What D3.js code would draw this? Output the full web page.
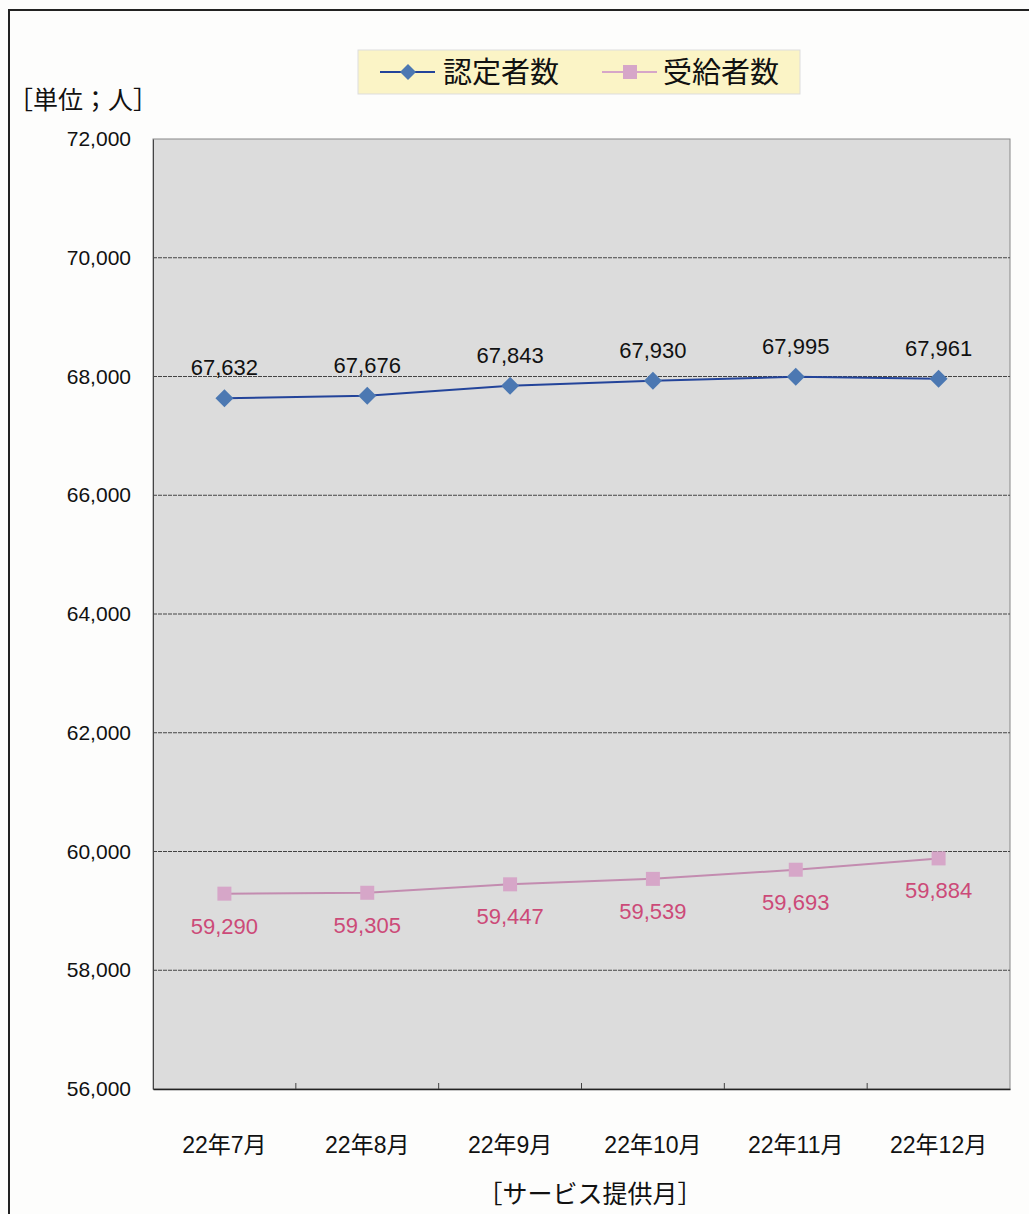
<!DOCTYPE html>
<html>
<head>
<meta charset="utf-8">
<script src="https://cdn.jsdelivr.net/npm/d3@7"></script>
<style>
  body { margin: 0; background: #fdfdfc; overflow: hidden; }
  text { font-family: "Liberation Sans", Arial, "Noto Sans CJK JP", sans-serif; }
</style>
</head>
<body>
<div id="chart"></div>
<script>
const width = 1029;
const height = 1214;

// Data
const months = ['22年7月', '22年8月', '22年9月', '22年10月', '22年11月', '22年12月'];
const certified = [67632, 67676, 67843, 67930, 67995, 67961];   // 認定者数
const recipients = [59290, 59305, 59447, 59539, 59693, 59884];  // 受給者数
const yTicks = [56000, 58000, 60000, 62000, 64000, 66000, 68000, 70000, 72000];

const plot = { left: 153, right: 1010, top: 139, bottom: 1089 };

const svg = d3.select('#chart')
  .append('svg')
  .attr('width', width)
  .attr('height', height)
  .style('display', 'block');

// Outer frame (only left and top edges visible in the scan)
svg.append('path')
  .attr('d', `M9,${height} L9,10 L${width},10`)
  .attr('fill', 'none')
  .attr('stroke', '#222')
  .attr('stroke-width', 2);

const x = d3.scaleBand()
  .domain(months)
  .range([plot.left, plot.right]);

const y = d3.scaleLinear()
  .domain([56000, 72000])
  .range([plot.bottom, plot.top]);

// Plot background
svg.append('rect')
  .attr('x', plot.left)
  .attr('y', plot.top)
  .attr('width', plot.right - plot.left)
  .attr('height', plot.bottom - plot.top)
  .attr('fill', '#dcdcdc')
  .attr('stroke', '#888')
  .attr('stroke-width', 1);

// Gridlines
svg.selectAll('.grid')
  .data(yTicks.slice(1, -1))
  .enter()
  .append('line')
  .attr('class', 'grid')
  .attr('x1', plot.left)
  .attr('x2', plot.right)
  .attr('y1', d => y(d))
  .attr('y2', d => y(d))
  .attr('stroke', '#444')
  .attr('stroke-width', 1)
  .attr('stroke-dasharray', '4,1');

// Y axis
const yAxis = svg.append('g')
  .attr('transform', `translate(${plot.left},0)`)
  .call(d3.axisLeft(y).tickValues(yTicks).tickSize(0).tickPadding(22).tickFormat(d3.format(',')));
yAxis.select('.domain').attr('stroke', '#444');
yAxis.selectAll('text').attr('font-size', 21).attr('fill', '#111');

// X axis
const xAxis = svg.append('g')
  .attr('transform', `translate(0,${plot.bottom})`)
  .call(d3.axisBottom(x).tickSize(0).tickPadding(48));
xAxis.select('.domain').attr('stroke', '#222').attr('stroke-width', 1.5);
xAxis.selectAll('text').attr('font-size', 23).attr('fill', '#111');

// Small inward ticks at category boundaries
svg.selectAll('.xtick')
  .data(months.slice(1))
  .enter()
  .append('line')
  .attr('x1', d => x(d))
  .attr('x2', d => x(d))
  .attr('y1', plot.bottom)
  .attr('y2', plot.bottom - 6)
  .attr('stroke', '#444');

const cx = d => x(d) + x.bandwidth() / 2;

const line = d3.line()
  .x((d, i) => cx(months[i]))
  .y(d => y(d));

// 受給者数 line
svg.append('path')
  .datum(recipients)
  .attr('d', line)
  .attr('fill', 'none')
  .attr('stroke', '#c38cb0')
  .attr('stroke-width', 2);

svg.selectAll('.sq')
  .data(recipients)
  .enter()
  .append('rect')
  .attr('x', (d, i) => cx(months[i]) - 7)
  .attr('y', d => y(d) - 7)
  .attr('width', 14)
  .attr('height', 14)
  .attr('fill', '#d6a6c8');

svg.selectAll('.rlabel')
  .data(recipients)
  .enter()
  .append('text')
  .attr('x', (d, i) => cx(months[i]))
  .attr('y', d => y(d) + 40)
  .attr('text-anchor', 'middle')
  .attr('font-size', 22)
  .attr('fill', '#cc4a78')
  .text(d => d3.format(',')(d));

// 認定者数 line
svg.append('path')
  .datum(certified)
  .attr('d', line)
  .attr('fill', 'none')
  .attr('stroke', '#23449a')
  .attr('stroke-width', 2);

svg.selectAll('.dia')
  .data(certified)
  .enter()
  .append('path')
  .attr('d', 'M0,-9 L9,0 L0,9 L-9,0 Z')
  .attr('transform', (d, i) => `translate(${cx(months[i])},${y(d)})`)
  .attr('fill', '#4c78b2');

svg.selectAll('.clabel')
  .data(certified)
  .enter()
  .append('text')
  .attr('x', (d, i) => cx(months[i]))
  .attr('y', d => y(d) - 23)
  .attr('text-anchor', 'middle')
  .attr('font-size', 22)
  .attr('fill', '#111')
  .text(d => d3.format(',')(d));

// Legend
const legend = svg.append('g');
legend.append('rect')
  .attr('x', 358)
  .attr('y', 50)
  .attr('width', 442)
  .attr('height', 44)
  .attr('fill', '#fbf4c6')
  .attr('stroke', '#ddd');

legend.append('line')
  .attr('x1', 380).attr('x2', 435).attr('y1', 72).attr('y2', 72)
  .attr('stroke', '#23449a').attr('stroke-width', 2);
legend.append('path')
  .attr('d', 'M0,-8 L8,0 L0,8 L-8,0 Z')
  .attr('transform', 'translate(408,72)')
  .attr('fill', '#4c78b2');
legend.append('text')
  .attr('x', 443).attr('y', 83)
  .attr('font-size', 29)
  .attr('fill', '#111')
  .text('認定者数');

legend.append('line')
  .attr('x1', 602).attr('x2', 657).attr('y1', 72).attr('y2', 72)
  .attr('stroke', '#d6a6c8').attr('stroke-width', 2);
legend.append('rect')
  .attr('x', 623).attr('y', 65).attr('width', 14).attr('height', 14)
  .attr('fill', '#d6a6c8');
legend.append('text')
  .attr('x', 663).attr('y', 83)
  .attr('font-size', 29)
  .attr('fill', '#111')
  .text('受給者数');

// Unit label and axis title
svg.append('text')
  .attr('x', 8).attr('y', 109)
  .attr('font-size', 25)
  .attr('fill', '#111')
  .text('［単位；人］');

svg.append('text')
  .attr('x', 590).attr('y', 1203)
  .attr('text-anchor', 'middle')
  .attr('font-size', 25)
  .attr('fill', '#111')
  .text('［サービス提供月］');
</script>
</body>
</html>
